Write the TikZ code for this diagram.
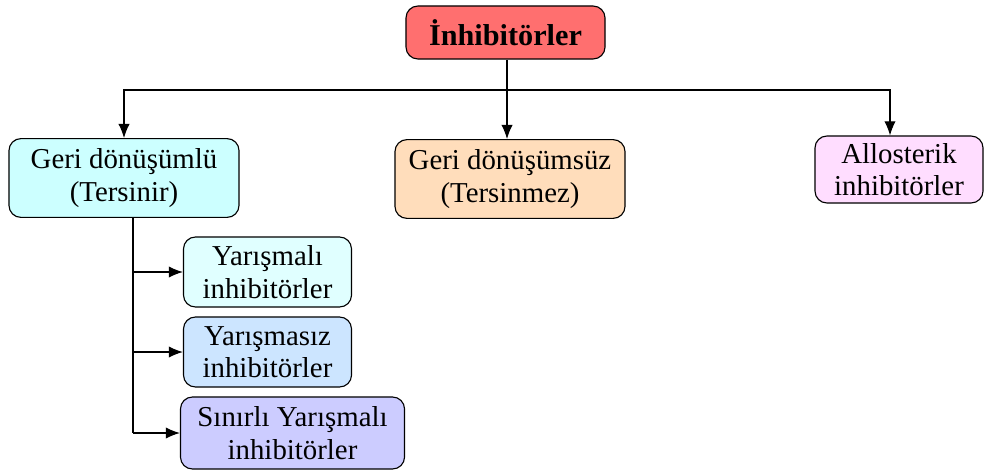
\documentclass[tikz,border=0pt]{standalone}
\usepackage{fontspec}
\setmainfont{Liberation Serif}
\usepackage{tikz}
\usetikzlibrary{arrows.meta}
\definecolor{topred}{HTML}{FF6F6F}
\definecolor{revcyan}{HTML}{CCFFFF}
\definecolor{irrpeach}{HTML}{FFDDBB}
\definecolor{allopink}{HTML}{FFDDFF}
\definecolor{compcyan}{HTML}{E0FFFF}
\definecolor{ncompblue}{HTML}{CCE5FF}
\definecolor{uncompviolet}{HTML}{CCCCFF}
\tikzstyle{module} = [rectangle, rounded corners=0.3cm, draw=black, thick, align=center, inner sep=0pt, font=\fontsize{20.5}{23}\selectfont]
\tikzstyle{link} = [-{Latex[length=10pt,width=8pt]}, thick]

\begin{document}
\begin{tikzpicture}[x=0.025cm, y=-0.025cm]
        \useasboundingbox (0,0) rectangle (984,474);
        \tikzstyle{bigbox} = [module, minimum width=5.75cm, minimum height=1.97cm]
        \tikzstyle{smallbox} = [module, minimum width=4.2cm, minimum height=1.75cm]

        \node[module, fill=topred, minimum width=4.975cm, minimum height=1.325cm, font=\fontsize{21.5}{23}\selectfont\bfseries] (inhib) at (505.5,32.5) {İnhibitörler};

        \node[bigbox, fill=revcyan] (rev) at (124,178) {Geri dönüşümlü\\(Tersinir)};
        \node[bigbox, fill=irrpeach] (irrev) at (510,179) {Geri dönüşümsüz\\(Tersinmez)};
        \node[module, fill=allopink, minimum width=4.2cm, minimum height=1.675cm] (allo) at (899,169.5) {Allosterik\\inhibitörler};

        \node[smallbox, fill=compcyan] (comp) at (267.5,272) {Yarışmalı\\inhibitörler};
        \node[smallbox, fill=ncompblue] (ncomp) at (267.5,352) {Yarışmasız\\inhibitörler};
        \node[module, fill=uncompviolet, minimum width=5.6cm, minimum height=1.8cm] (uncomp) at (292.5,433) {Sınırlı Yarışmalı\\inhibitörler};

        \coordinate (split) at (507,90);
        \draw[thick] (inhib.south-|split) -- (split);
        \draw[link] (split) -| (rev.north);
        \draw[link] (split) -- (irrev.north-|split);
        \draw[link] (split) -| (allo.north-|890,0);

        \coordinate (trunk) at (133,0);
        \draw[thick] (rev.south-|trunk) -- (uncomp.west-|trunk);
        \draw[link] (comp.west-|trunk) -- (comp.west);
        \draw[link] (ncomp.west-|trunk) -- (ncomp.west);
        \draw[link] (uncomp.west-|trunk) -- (uncomp.west);

    \end{tikzpicture}
\end{document}
